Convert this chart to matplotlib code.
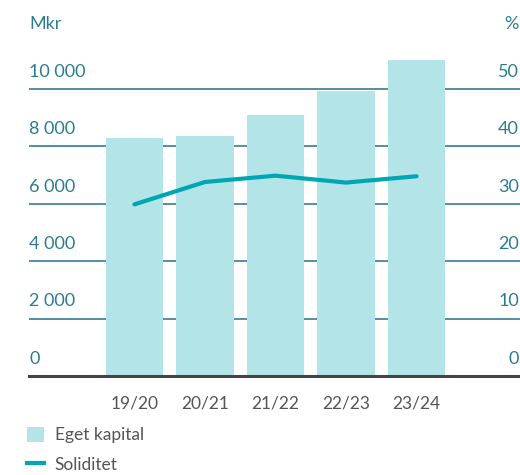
import matplotlib
matplotlib.use("Agg")
import matplotlib.pyplot as plt
from matplotlib.patches import Patch
from matplotlib.lines import Line2D
import matplotlib.transforms as mtransforms

plt.rcParams['font.family'] = ['Lato', 'DejaVu Sans']

categories = ["19/20", "20/21", "21/22", "22/23", "23/24"]
eget_kapital = [8300, 8370, 9100, 9940, 11000]   # Mkr
soliditet = [29.9, 33.8, 34.9, 33.7, 34.8]         # %
left_ticks = [0, 2000, 4000, 6000, 8000, 10000]
left_labels = ["0", "2 000", "4 000", "6 000", "8 000", "10 000"]
right_ticks = [0, 10, 20, 30, 40, 50]
right_labels = ["0", "10", "20", "30", "40", "50"]

BAR = '#b3e4e8'
LINE = '#00a6b2'
TXT = '#2a7d91'
GRID = '#2a6f86'
GRAY = '#555555'

W, H = 520, 475
fig = plt.figure(figsize=(W / 100, H / 100), dpi=100)

x0, x1 = 29, 520
y0 = 376
ppu = 287 / 10000
ymax = 12000
ax = fig.add_axes([x0 / W, (H - y0) / H, (x1 - x0) / W, ymax * ppu / H])
ax2 = ax.twinx()

xs = list(range(len(categories)))
ax.bar(xs, eget_kapital, width=0.81, color=BAR, zorder=2)
ax.set_xlim(-1.496, 5.468)
ax.set_ylim(0, ymax)
ax2.set_ylim(0, ymax / 200)

ax.set_yticks(left_ticks[1:])
ax.yaxis.grid(True, color=GRID, linewidth=1.1)
ax.set_axisbelow(True)
ax.tick_params(axis='y', length=0, labelleft=False)
ax.set_xticks(xs)
ax.set_xticklabels(categories, fontsize=12.5, color=GRAY)
ax.tick_params(axis='x', length=0, pad=14)

ax2.plot(xs, soliditet, color=LINE, linewidth=3, solid_capstyle='round', zorder=5)
ax2.set_yticks([])

for a in (ax, ax2):
    for s in ('top', 'right', 'left'):
        a.spines[s].set_visible(False)
ax2.spines['bottom'].set_visible(False)
ax.spines['bottom'].set_color('#444444')
ax.spines['bottom'].set_linewidth(2.2)
ax2.patch.set_visible(False)

ltrans = mtransforms.blended_transform_factory(ax.transAxes, ax.transData)
rtrans = mtransforms.blended_transform_factory(ax.transAxes, ax2.transData)
off = mtransforms.ScaledTranslation(0, 8.8 / 72, fig.dpi_scale_trans)
for t, lab in zip(left_ticks, left_labels):
    ax.text(0, t, lab, transform=ltrans + off, ha='left', va='baseline',
            fontsize=13, color=TXT)
for t, lab in zip(right_ticks, right_labels):
    ax.text(1 - 1 / (x1 - x0), t, lab, transform=rtrans + off, ha='right', va='baseline',
            fontsize=13, color=TXT)

fig.text(x0 / W, 1 - 29 / H, "Mkr", ha='left', va='baseline', fontsize=13, color=TXT)
fig.text(519 / W, 1 - 29 / H, "%", ha='right', va='baseline', fontsize=13, color=TXT)

handles = [Patch(facecolor=BAR, edgecolor='none', label='Eget kapital'),
           Line2D([0], [0], color=LINE, linewidth=3, label='Soliditet')]
fig.legend(handles=handles, loc='upper left', bbox_to_anchor=(27 / W, 1 - 427 / H),
           frameon=False, fontsize=12.5, labelcolor=GRAY, borderpad=0,
           borderaxespad=0, handlelength=1.0, handleheight=0.92,
           handletextpad=0.6, labelspacing=0.75)

fig.savefig('out.png', dpi=100)
